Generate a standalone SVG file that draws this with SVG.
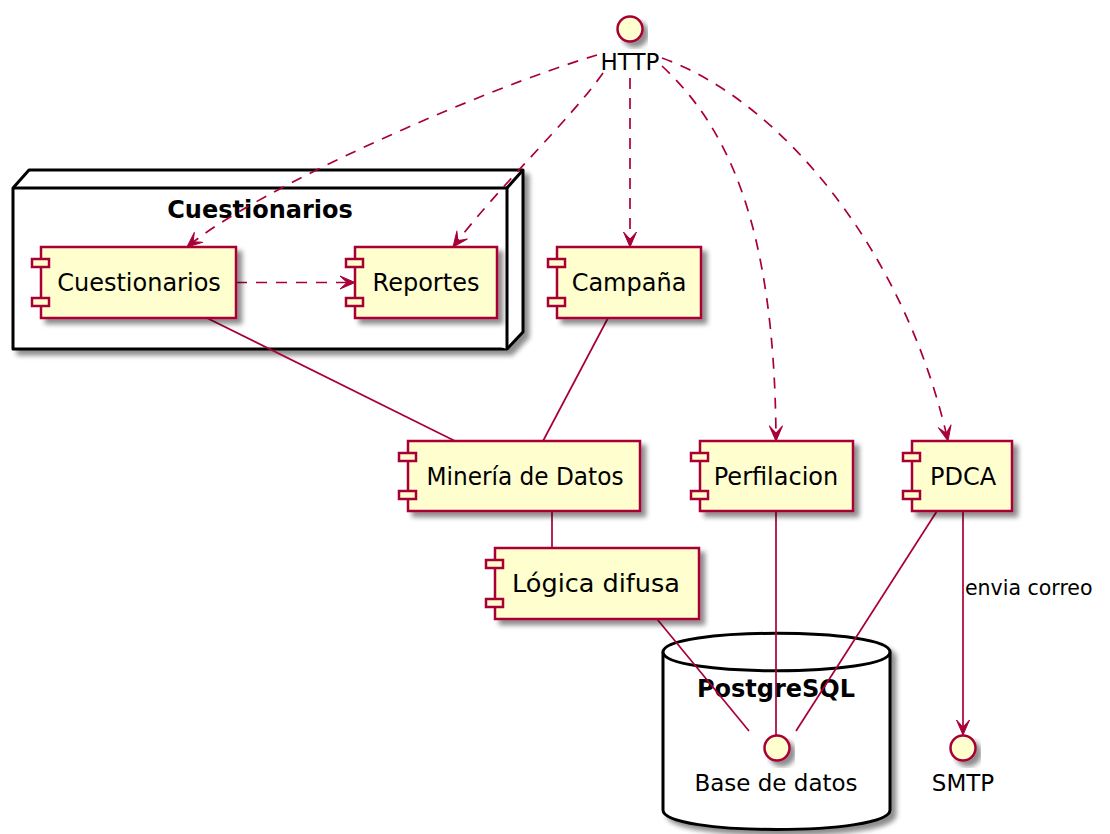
<svg xmlns="http://www.w3.org/2000/svg" width="1110" height="834" viewBox="0 0 1110 834">
  <style>
    .comp rect.body { fill: #FEFECE; stroke: #A80036; stroke-width: 2.5; }
    .comp rect.port { fill: #FEFECE; stroke: #A80036; stroke-width: 2.5; }
    .comp text { font-family: "DejaVu Sans", "Liberation Sans", sans-serif; font-size: 24px; fill: #000; text-anchor: middle; }
    .iface circle { fill: #FEFECE; stroke: #A80036; stroke-width: 2.5; }
    .iface text { font-family: "DejaVu Sans", "Liberation Sans", sans-serif; font-size: 23px; fill: #000; text-anchor: middle; }
    .frame { fill: #FFFFFF; stroke: #000; stroke-width: 3; stroke-linejoin: round; }
    .title { font-family: "DejaVu Sans", "Liberation Sans", sans-serif; font-size: 24px; font-weight: bold; fill: #000; text-anchor: middle; }
    .link { fill: none; stroke: #A80036; stroke-width: 1.7; }
    .dash { stroke-dasharray: 11 9; }
    .label { font-family: "DejaVu Sans", "Liberation Sans", sans-serif; font-size: 20.5px; fill: #000; }
  </style>
  <defs>
    <filter id="shadow" x="-10%" y="-10%" width="130%" height="140%">
      <feGaussianBlur in="SourceAlpha" stdDeviation="2.5" result="b"/>
      <feOffset in="b" dx="5" dy="5" result="o"/>
      <feComponentTransfer in="o" result="s">
        <feFuncA type="linear" slope="0.45"/>
      </feComponentTransfer>
      <feMerge>
        <feMergeNode in="s"/>
        <feMergeNode in="SourceGraphic"/>
      </feMerge>
    </filter>
    <marker id="arrow" markerUnits="userSpaceOnUse" viewBox="-16 -8 17 16" markerWidth="17" markerHeight="16" refX="0" refY="0" orient="auto">
      <path d="M0,0 L-15,-6.5 L-8,0 L-15,6.5 Z" fill="#A80036" stroke="#A80036" stroke-width="1" stroke-linejoin="round"/>
    </marker>
  </defs>

  <rect width="1110" height="834" fill="#FFFFFF"/>

  <!-- Node: Cuestionarios (3D box) -->
  <g id="node-cuestionarios">
    <g filter="url(#shadow)">
      <polygon class="frame" points="13,188 29,170 523,170 523,332 507,349 13,349"/>
    </g>
    <polyline class="frame" fill="none" points="13,188 507,188 507,349"/>
    <line class="frame" x1="507" y1="188" x2="523" y2="170"/>
    <text class="title" x="260" y="218">Cuestionarios</text>
  </g>

  <!-- Database: PostgreSQL -->
  <g id="db-postgresql">
    <path class="frame" filter="url(#shadow)" d="M663,652 C663,627 890,627 890,652 L890,810 C890,836 663,836 663,810 Z"/>
    <path class="frame" fill="none" d="M663,652 C663,677 890,677 890,652"/>
    <text class="title" x="776" y="697">PostgreSQL</text>
  </g>

  <!-- Connectors -->
  <g id="connectors">
    <path class="link dash" marker-end="url(#arrow)" d="M597,55 C480,90 255,190 187,247"/>
    <path class="link dash" marker-end="url(#arrow)" d="M603,73 C570,120 500,185 453,247"/>
    <path class="link dash" marker-end="url(#arrow)" d="M630,78 L630,247"/>
    <path class="link dash" marker-end="url(#arrow)" d="M662,66 C725,125 775,220 776,441"/>
    <path class="link dash" marker-end="url(#arrow)" d="M662,58 C780,100 905,250 948,441"/>
    <path class="link dash" marker-end="url(#arrow)" d="M236,282.5 L355,282.5"/>
    <path class="link" d="M207,318 L455,441"/>
    <path class="link" d="M608,318 L543,441"/>
    <path class="link" d="M552,511 L552,548"/>
    <path class="link" d="M657,619 L749,731"/>
    <path class="link" d="M776,511 L776,735"/>
    <path class="link" d="M937,511 L796,731"/>
    <path class="link" marker-end="url(#arrow)" d="M963,511 L963,735"/>
    <text class="label" x="965" y="595">envia correo</text>
  </g>

  <!-- Components -->
  <g id="comp-cuestionarios" class="comp">
    <rect class="body" x="41" y="247" width="195" height="71" filter="url(#shadow)"/>
    <rect class="port" x="32" y="259" width="17" height="8"/>
    <rect class="port" x="32" y="298" width="17" height="8"/>
    <text x="139" y="291">Cuestionarios</text>
  </g>
  <g id="comp-reportes" class="comp">
    <rect class="body" x="355" y="247" width="142" height="71" filter="url(#shadow)"/>
    <rect class="port" x="346" y="259" width="17" height="8"/>
    <rect class="port" x="346" y="298" width="17" height="8"/>
    <text x="426" y="291">Reportes</text>
  </g>
  <g id="comp-campana" class="comp">
    <rect class="body" x="557" y="247" width="144" height="71" filter="url(#shadow)"/>
    <rect class="port" x="548" y="259" width="17" height="8"/>
    <rect class="port" x="548" y="298" width="17" height="8"/>
    <text x="629" y="291">Campaña</text>
  </g>
  <g id="comp-mineria" class="comp">
    <rect class="body" x="408" y="441" width="232" height="70" filter="url(#shadow)"/>
    <rect class="port" x="399" y="453" width="17" height="8"/>
    <rect class="port" x="399" y="491" width="17" height="8"/>
    <text x="525" y="485" textLength="197" lengthAdjust="spacingAndGlyphs">Minería de Datos</text>
  </g>
  <g id="comp-perfilacion" class="comp">
    <rect class="body" x="700" y="441" width="153" height="70" filter="url(#shadow)"/>
    <rect class="port" x="691" y="453" width="17" height="8"/>
    <rect class="port" x="691" y="491" width="17" height="8"/>
    <text x="776" y="485">Perfilacion</text>
  </g>
  <g id="comp-pdca" class="comp">
    <rect class="body" x="912" y="441" width="100" height="70" filter="url(#shadow)"/>
    <rect class="port" x="903" y="453" width="17" height="8"/>
    <rect class="port" x="903" y="491" width="17" height="8"/>
    <text x="963" y="485">PDCA</text>
  </g>
  <g id="comp-logica" class="comp">
    <rect class="body" x="495" y="548" width="204" height="71" filter="url(#shadow)"/>
    <rect class="port" x="486" y="560" width="17" height="8"/>
    <rect class="port" x="486" y="599" width="17" height="8"/>
    <text x="596" y="592" textLength="168" lengthAdjust="spacingAndGlyphs">Lógica difusa</text>
  </g>

  <!-- Interfaces -->
  <g id="if-http" class="iface">
    <circle cx="630" cy="29" r="12.5" filter="url(#shadow)"/>
    <text x="630" y="70">HTTP</text>
  </g>
  <g id="if-basedatos" class="iface">
    <circle cx="777" cy="748" r="12.5" filter="url(#shadow)"/>
    <text x="776" y="791">Base de datos</text>
  </g>
  <g id="if-smtp" class="iface">
    <circle cx="963" cy="748" r="12.5" filter="url(#shadow)"/>
    <text x="963" y="791">SMTP</text>
  </g>
</svg>
